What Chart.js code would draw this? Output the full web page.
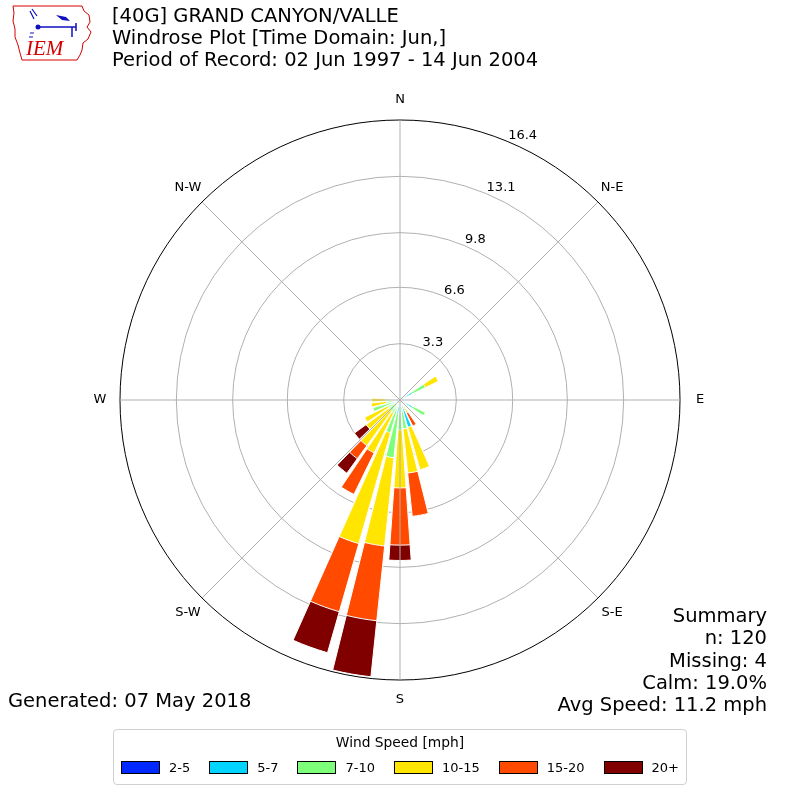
<!DOCTYPE html>
<html>
<head>
<meta charset="utf-8">
<script src="https://cdn.jsdelivr.net/npm/chart.js@4.4.0/dist/chart.umd.min.js"></script>
<style>
  body { margin: 0; background: #fff; font-family: "DejaVu Sans", sans-serif; }
  #wrap { position: relative; width: 800px; height: 800px; overflow: hidden; }
  #rose { position: absolute; left: 0; top: 0; }
  .title { position: absolute; left: 112px; top: 5px; font-size: 19.5px; line-height: 21.8px; color: #000; }
  .summary { position: absolute; right: 33px; top: 605px; font-size: 19.5px; line-height: 22.3px; text-align: right; }
  .generated { position: absolute; left: 8px; top: 689px; font-size: 19.5px; }
  .legend { position: absolute; left: 113px; top: 729px; width: 572px; height: 54px;
            border: 1px solid #d0d0d0; border-radius: 4px; font-size: 13px; }
  .legend .ltitle { text-align: center; margin-top: 4px; height: 19px; font-size: 13.8px; }
  .legend .row { display: flex; justify-content: center; gap: 19px; margin-top: 7px; }
  .legend .item { display: flex; align-items: center; }
  .legend .sw { width: 37px; height: 11px; border: 1px solid #000; margin-right: 9px; }
  .logo { position: absolute; left: 10px; top: 3px; }
</style>
</head>
<body>
<div id="wrap">
  <canvas id="rose" width="800" height="800"></canvas>

  <svg class="logo" width="84" height="62" viewBox="0 0 84 62">
    <path d="M3,3 L72,3 L74,8 L79,12 L80,19 L77,24 L81,29 L78,36 L73,40 L72,47 L70,52 L67,57 L12,57 L10,50 L8,42 L5,34 L5,26 L3,18 L4,10 Z"
          fill="none" stroke="#d40000" stroke-width="1"/>
    <path d="M20,8 L24,16 M22,6 L27,13" stroke="#1010c0" stroke-width="1.2" fill="none"/>
    <circle cx="28" cy="24" r="2.5" fill="#1010c0"/>
    <path d="M28,24 L66,24 M62,24 L62,34 M66,20 L66,28" stroke="#1010c0" stroke-width="1.5" fill="none"/>
    <path d="M46,12 L56,14 L60,18 L52,17 Z" fill="#1010c0"/>
    <path d="M20,30 L24,30 M19,34 L23,34" stroke="#1010c0" stroke-width="1.2"/>
    <text x="16" y="52" font-family="Liberation Serif, serif" font-style="italic" font-size="21" fill="#d40000">IEM</text>
  </svg>

  <div class="title">
    <div id="t1"></div>
    <div id="t2"></div>
    <div id="t3"></div>
  </div>
  <div class="summary" id="summary"></div>
  <div class="generated" id="generated"></div>
  <div class="legend">
    <div class="ltitle" id="legendTitle"></div>
    <div class="row" id="legendRow"></div>
  </div>
</div>

<script>
// Testi del grafico
const TITLE_LINES = [
  '[40G] GRAND CANYON/VALLE',
  'Windrose Plot [Time Domain: Jun,]',
  'Period of Record: 02 Jun 1997 - 14 Jun 2004'
];
const SUMMARY_LINES = ['Summary', 'n: 120', 'Missing: 4', 'Calm: 19.0%', 'Avg Speed: 11.2 mph'];
const GENERATED_TEXT = 'Generated: 07 May 2018';
const LEGEND_TITLE = 'Wind Speed [mph]';

// Classi di velocita' e colori
const SPEED_CLASSES = ['2-5', '5-7', '7-10', '10-15', '15-20', '20+'];
const CLASS_COLORS = ['#0028ff', '#00d4ff', '#7dff7a', '#ffe500', '#ff4a00', '#800000'];

// Direzioni (gradi) e etichette cardinali
const DIRECTIONS = [0, 10, 20, 30, 40, 50, 60, 70, 80, 90, 100, 110, 120, 130, 140, 150, 160, 170,
                    180, 190, 200, 210, 220, 230, 240, 250, 260, 270, 280, 290, 300, 310, 320, 330, 340, 350];
const COMPASS_LABELS = ['N', 'N-E', 'E', 'S-E', 'S', 'S-W', 'W', 'N-W'];
const RING_TICKS = [3.3, 6.6, 9.8, 13.1, 16.4];
const RING_MAX = 16.4;

// Frequenze (%) per classe, una voce per direzione
//                 0    10   20   30   40   50   60   70   80   90   100  110  120  130  140  150  160  170  180  190  200  210  220  230  240  250  260  270  280  290  300  310  320  330  340  350
const PCT_2_5   = [0,   0,   0,   0,   0,   0,   0,   0,   0,   0,   0,   0,   0,   0,   0,   0,   0,   0,   0,   0,   0,   0,   0,   0,   0,   0,   0,   0,   0,   0,   0,   0,   0,   0,   0,   0];
const PCT_5_7   = [0,   0,   0,   0,   0,   0,   0.8, 0,   0,   0,   0,   0,   0.8, 0,   0,   0,   1.65,0,   0,   0.8, 0.4, 0,   0,   0,   0,   0.4, 0,   0,   0,   0,   0,   0,   0,   0,   0,   0];
const PCT_7_10  = [0,   0,   0,   0,   0,   0,   0.85,0,   0,   0,   0,   0,   0.85,0,   0,   0,   0,   1.7, 1.75,2.6, 1.6, 0.85,0.8, 0.8, 0.8, 1.25,0.8, 0.8, 0,   0,   0.5, 0,   0,   0,   0,   0];
const PCT_10_15 = [0,   0,   0,   0,   0,   0,   0.85,0,   0,   0,   0,   0,   0,   0,   0,   0.85,2.6, 2.6, 3.4, 5.2, 6.75,2.6, 2.5, 1.65,1.5, 0,   0.9, 0.85,0,   0,   0,   0,   0,   0,   0,   0];
const PCT_15_20 = [0,   0,   0,   0,   0,   0,   0,   0,   0,   0,   0,   0,   0,   0,   0,   0.85,0,   2.55,3.35,4.4, 4.15,2.7, 0.95,0,   0,   0,   0,   0,   0,   0,   0,   0,   0,   0,   0,   0];
const PCT_20_UP = [0,   0,   0,   0,   0,   0,   0,   0,   0,   0,   0,   0,   0,   0,   0,   0,   0,   0,   0.9, 3.3, 2.5, 0,   1.05,0.85,0,   0,   0,   0,   0,   0,   0,   0,   0,   0,   0,   0];

const BAR_WIDTH = 8; // gradi per ogni barra, il resto del settore e' vuoto
const SECTOR = 360 / DIRECTIONS.length;

// Somma cumulata per classe: la barra k copre tutte le classi fino a k
function cumulate(perClass) {
    return perClass.map((_, k) =>
        DIRECTIONS.map((d, i) => perClass.slice(0, k + 1).reduce((s, arr) => s + arr[i], 0))
    );
}

// Ogni direzione diventa barra + spazio vuoto
function interleave(values) {
    const out = [];
    values.forEach(v => { out.push(v); out.push(0); });
    return out;
}

const perClass = [PCT_2_5, PCT_5_7, PCT_7_10, PCT_10_15, PCT_15_20, PCT_20_UP];
const cumulative = cumulate(perClass);
const labels = interleave(DIRECTIONS.map(d => d + '°')).map((v, i) => i % 2 ? '' : v);

const datasets = SPEED_CLASSES.map((name, k) => ({
    label: name,
    data: interleave(cumulative[k]),
    backgroundColor: ctx => ctx.dataIndex % 2 ? 'rgba(0,0,0,0)' : CLASS_COLORS[k],
    borderColor: '#ffffff',
    borderWidth: ctx => ctx.dataIndex % 2 ? 0 : 1,
    angle: ctx => ctx.dataIndex % 2 ? SECTOR - BAR_WIDTH : BAR_WIDTH
}));

// Linee radiali, etichette cardinali e valori degli anelli
const roseDecor = {
    id: 'roseDecor',
    afterDatasetsDraw(chart) {
        const s = chart.scales.r;
        const ctx = chart.ctx;
        ctx.save();
        ctx.strokeStyle = '#b0b0b0';
        ctx.lineWidth = 1;
        COMPASS_LABELS.forEach((_, i) => {
            const a = (i * 45) * Math.PI / 180;
            ctx.beginPath();
            ctx.moveTo(s.xCenter, s.yCenter);
            ctx.lineTo(s.xCenter + s.drawingArea * Math.sin(a), s.yCenter - s.drawingArea * Math.cos(a));
            ctx.stroke();
        });
        ctx.restore();
    },
    afterDraw(chart) {
        const s = chart.scales.r;
        const ctx = chart.ctx;
        ctx.save();
        ctx.fillStyle = '#000';
        ctx.font = '13px "DejaVu Sans"';
        ctx.textAlign = 'center';
        ctx.textBaseline = 'middle';
        COMPASS_LABELS.forEach((lab, i) => {
            const a = (i * 45) * Math.PI / 180;
            const r = s.drawingArea + 20;
            ctx.fillText(lab, s.xCenter + r * Math.sin(a), s.yCenter - r * Math.cos(a));
        });
        const ta = 22.5 * Math.PI / 180;
        ctx.textAlign = 'left';
        ctx.textBaseline = 'bottom';
        RING_TICKS.forEach(v => {
            const r = s.getDistanceFromCenterForValue(v);
            ctx.fillText(v.toFixed(1), s.xCenter + r * Math.sin(ta) + 1, s.yCenter - r * Math.cos(ta) + 1);
        });
        ctx.restore();
    }
};

const chart = new Chart(document.getElementById('rose').getContext('2d'), {
    type: 'polarArea',
    data: { labels: labels, datasets: datasets },
    options: {
        responsive: false,
        animation: false,
        events: [],
        layout: { padding: { left: 120, right: 120, top: 120, bottom: 120 } },
        plugins: { legend: { display: false }, tooltip: { enabled: false } },
        scales: {
            r: {
                type: 'radialLinear',
                min: 0,
                max: RING_MAX,
                startAngle: -BAR_WIDTH / 2,
                z: 1,
                ticks: { display: false },
                afterBuildTicks: scale => {
                    scale.ticks = [0].concat(RING_TICKS).map(v => ({ value: v }));
                },
                grid: {
                    circular: true,
                    lineWidth: 1,
                    color: ctx => (ctx.tick && ctx.tick.value === RING_MAX) ? '#000000' : '#b0b0b0'
                },
                angleLines: { display: false },
                pointLabels: { display: false }
            }
        }
    },
    plugins: [roseDecor]
});

// Testi in HTML
TITLE_LINES.forEach((t, i) => { document.getElementById('t' + (i + 1)).textContent = t; });
document.getElementById('summary').innerHTML = SUMMARY_LINES.map(l => '<div>' + l + '</div>').join('');
document.getElementById('generated').textContent = GENERATED_TEXT;
document.getElementById('legendTitle').textContent = LEGEND_TITLE;
const row = document.getElementById('legendRow');
SPEED_CLASSES.forEach((name, k) => {
    const item = document.createElement('div');
    item.className = 'item';
    const sw = document.createElement('div');
    sw.className = 'sw';
    sw.style.background = CLASS_COLORS[k];
    const tx = document.createElement('span');
    tx.textContent = name;
    item.appendChild(sw);
    item.appendChild(tx);
    row.appendChild(item);
});
</script>
</body>
</html>
